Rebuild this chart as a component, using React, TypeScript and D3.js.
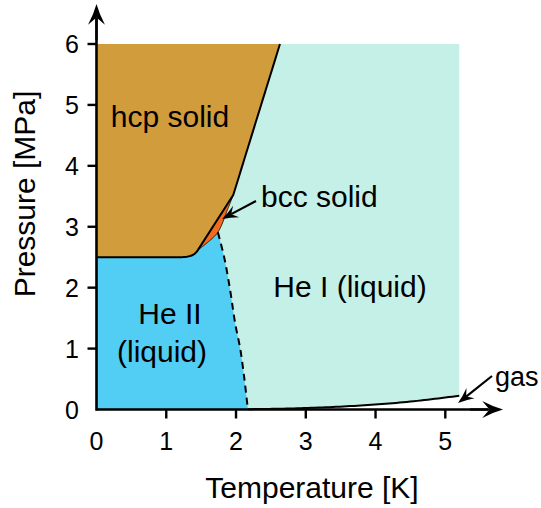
import React from "react";
import * as d3 from "d3";

// Phase boundaries of helium-4 (temperature in K, pressure in MPa)
const xTicks = [0, 1, 2, 3, 4, 5];
const yTicks = [0, 1, 2, 3, 4, 5, 6];

// hcp solid lower boundary (hcp / He II), up to the bcc onset point
const hcpLowerT = [0, 1.0, 1.3, 1.4, 1.455];
const hcpLowerP = [2.5, 2.5, 2.51, 2.55, 2.62];
// hcp / bcc line
const hcpBccT = [1.455, 1.96];
const hcpBccP = [2.62, 3.52];
// bcc / liquid boundary (lower-right edge of the bcc sliver)
const bccLiqT = [1.455, 1.6, 1.74, 1.885, 1.96];
const bccLiqP = [2.62, 2.75, 2.91, 3.3, 3.52];
// hcp / He I melting line above the bcc region
const meltT = [1.96, 1.99, 2.3, 2.63];
const meltP = [3.52, 3.63, 4.78, 6.0];
// lambda line (He I / He II)
const lambdaT = [1.74, 1.83, 1.91, 1.99, 2.06, 2.12, 2.17];
const lambdaP = [2.91, 2.5, 2.0, 1.4, 1.0, 0.5, 0.005];
// saturated vapour pressure curve up to the critical point
const vapT = [2.17, 2.5, 3.0, 3.5, 4.0, 4.5, 5.0, 5.2];
const vapP = [0.005, 0.01, 0.024, 0.047, 0.082, 0.13, 0.196, 0.227];

const W = 541;
const H = 508;
const FONT = "'Liberation Sans', Arial, sans-serif";

const COL_HCP = "#d19c3c";
const COL_HE2 = "#52cdf4";
const COL_HE1 = "#c4f0e8";
const COL_BCC = "#f26b1d";

const x = d3.scaleLinear().domain([0, 5]).range([96.5, 445.3]);
const y = d3.scaleLinear().domain([0, 6]).range([409.5, 44]);

const pts = (ts: number[], ps: number[]): [number, number][] =>
  ts.map((t, i) => [t, ps[i]]);

const smooth = d3
  .line<[number, number]>()
  .x((d) => x(d[0]))
  .y((d) => y(d[1]))
  .curve(d3.curveCatmullRom.alpha(0.5));

const straight = d3
  .line<[number, number]>()
  .x((d) => x(d[0]))
  .y((d) => y(d[1]));

const poly = (segs: [number, number][][]) => {
  const all = segs.flat();
  return "M" + all.map((d) => `${x(d[0])},${y(d[1])}`).join("L") + "Z";
};

// sample a smooth curve through the points into a dense polyline
const sample = (ts: number[], ps: number[]): [number, number][] => {
  const path = document.createElementNS("http://www.w3.org/2000/svg", "path");
  path.setAttribute("d", smooth(pts(ts, ps)) || "");
  const len = path.getTotalLength ? path.getTotalLength() : 0;
  if (!len) return pts(ts, ps);
  const out: [number, number][] = [];
  const n = 60;
  for (let i = 0; i <= n; i++) {
    const p = path.getPointAtLength((len * i) / n);
    out.push([x.invert(p.x), y.invert(p.y)]);
  }
  return out;
};

function Arrow({ x1, y1, x2, y2, size = 1 }: any) {
  const a = Math.atan2(y2 - y1, x2 - x1);
  const L = 16 * size;
  const Wd = 6.5 * size;
  const rot = (dx: number, dy: number) => [
    x2 + dx * Math.cos(a) - dy * Math.sin(a),
    y2 + dx * Math.sin(a) + dy * Math.cos(a),
  ];
  const p1 = rot(-L, -Wd);
  const p2 = rot(-L * 0.65, 0);
  const p3 = rot(-L, Wd);
  return (
    <g>
      <line x1={x1} y1={y1} x2={p2[0]} y2={p2[1]} stroke="#000" strokeWidth={2.2} />
      <path
        d={`M${x2},${y2} Q${rot(-L * 0.5, -Wd * 0.35).join(",")} ${p1.join(",")} L${p2.join(",")} L${p3.join(",")} Q${rot(-L * 0.5, Wd * 0.35).join(",")} ${x2},${y2}Z`}
        fill="#000"
      />
    </g>
  );
}

export default function App() {
  const [, force] = React.useState(0);
  React.useEffect(() => force(1), []);

  const hcpLow = sample(hcpLowerT, hcpLowerP);
  const bccLiq = sample(bccLiqT, bccLiqP);
  const lam = sample(lambdaT, lambdaP);
  const vap = sample(vapT, vapP);
  const melt = sample(meltT, meltP);
  const hb = pts(hcpBccT, hcpBccP);

  const lamTopIdx = bccLiq.findIndex((d) => d[0] >= lambdaT[0]);

  const he1 = poly([[[0, 6], [5.2, 6]], vap.slice().reverse(), [[0, 0]]]);
  const he2 = poly([
    [[0, 0]],
    lam.slice().reverse(),
    bccLiq.slice(0, Math.max(lamTopIdx, 1)).reverse(),
    hcpLow.slice().reverse(),
  ]);
  const hcp = poly([
    [[0, 6]],
    melt.slice().reverse(),
    hb.slice().reverse(),
    hcpLow.slice().reverse(),
  ]);
  const bcc = poly([hb, bccLiq.slice().reverse()]);

  return (
    <svg width={W} height={H} style={{ position: "absolute", left: 0, top: 0 }}>
      <path d={he1} fill={COL_HE1} />
      <path d={he2} fill={COL_HE2} />
      <path d={hcp} fill={COL_HCP} />
      <path d={bcc} fill={COL_BCC} />

      {/* phase boundaries */}
      <path d={straight([...hcpLow, ...hb.slice(1), ...melt.slice(1)]) || ""} fill="none" stroke="#000" strokeWidth={2} strokeLinejoin="round" />
      <path d={straight(bccLiq) || ""} fill="none" stroke="#000" strokeWidth={0.8} />
      <path d={straight(lam) || ""} fill="none" stroke="#000" strokeWidth={2} strokeDasharray="7,5" />
      <path d={straight(vap) || ""} fill="none" stroke="#000" strokeWidth={2} />

      {/* axes */}
      <line x1={x(0)} y1={y(0)} x2={488} y2={y(0)} stroke="#000" strokeWidth={2.6} />
      <line x1={x(0)} y1={y(0) + 1.3} x2={x(0)} y2={18} stroke="#000" strokeWidth={2.6} />
      <Arrow x1={470} y1={y(0)} x2={503} y2={y(0)} size={1.3} />
      <Arrow x1={x(0)} y1={40} x2={x(0)} y2={4} size={1.3} />
      {xTicks.map((t) => (
        <g key={"x" + t}>
          {t > 0 && <line x1={x(t)} x2={x(t)} y1={y(0)} y2={y(0) + 9} stroke="#000" strokeWidth={2.4} />}
          <text x={x(t)} y={450} textAnchor="middle" fontSize={25} fontFamily={FONT}>{t}</text>
        </g>
      ))}
      {yTicks.map((p) => (
        <g key={"y" + p}>
          {p > 0 && <line x1={x(0) - 9} x2={x(0)} y1={y(p)} y2={y(p)} stroke="#000" strokeWidth={2.4} />}
          <text x={79} y={y(p) + 9.3} textAnchor="end" fontSize={25} fontFamily={FONT}>{p}</text>
        </g>
      ))}
      <text x={312} y={498} textAnchor="middle" fontSize={30} fontFamily={FONT}>Temperature [K]</text>
      <text transform={`translate(35,194) rotate(-90)`} textAnchor="middle" fontSize={30} fontFamily={FONT}>Pressure [MPa]</text>

      {/* phase labels */}
      <text x={170} y={127} textAnchor="middle" fontSize={30} fontFamily={FONT}>hcp solid</text>
      <text x={170} y={324} textAnchor="middle" fontSize={30} fontFamily={FONT}>He II</text>
      <text x={162} y={362} textAnchor="middle" fontSize={30} fontFamily={FONT}>(liquid)</text>
      <text x={350} y={297} textAnchor="middle" fontSize={30} fontFamily={FONT}>He I (liquid)</text>
      <text x={261} y={207} fontSize={30} fontFamily={FONT}>bcc solid</text>
      <text x={495} y={386} fontSize={27} fontFamily={FONT}>gas</text>
      <Arrow x1={256} y1={201} x2={222} y2={219} />
      <Arrow x1={492} y1={376} x2={458} y2={403} />
    </svg>
  );
}
